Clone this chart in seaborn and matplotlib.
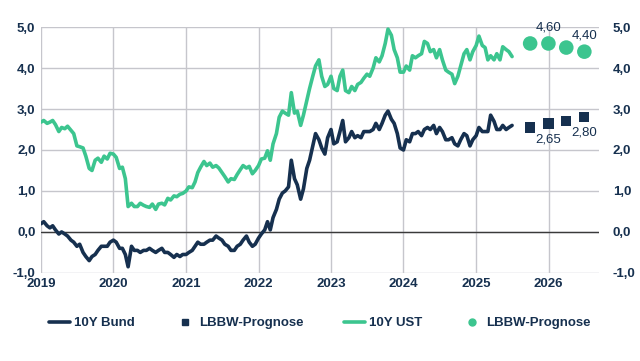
"""10Y Bund vs. 10Y UST yields with LBBW forecasts."""

import matplotlib

matplotlib.use("Agg")

import matplotlib.dates as mdates
import matplotlib.pyplot as plt
import pandas as pd
import seaborn as sns
from matplotlib.lines import Line2D


NAVY = "#16304f"
GREEN = "#3cc58f"
GRID = "#c6c6cc"

# semi-monthly observations (1st and 15th), Jan 2019 .. Jul 2025
dates = pd.date_range("2019-01-01", "2025-07-01", freq="SMS")

ust_10y = [
    # 2019
    2.68, 2.72, 2.65, 2.68, 2.72, 2.62, 2.45, 2.55, 2.52, 2.58, 2.48, 2.40,
    2.10, 2.08, 2.05, 1.85, 1.55, 1.50, 1.75, 1.80, 1.70, 1.85, 1.78, 1.92,
    # 2020
    1.90, 1.82, 1.55, 1.58, 1.30, 0.62, 0.70, 0.62, 0.62, 0.70, 0.65, 0.62,
    0.60, 0.68, 0.55, 0.68, 0.70, 0.66, 0.82, 0.78, 0.88, 0.86, 0.92, 0.94,
    # 2021
    1.00, 1.10, 1.08, 1.22, 1.45, 1.58, 1.72, 1.62, 1.68, 1.58, 1.62, 1.56,
    1.45, 1.35, 1.22, 1.30, 1.28, 1.40, 1.52, 1.62, 1.56, 1.60, 1.42, 1.50,
    # 2022
    1.62, 1.78, 1.80, 1.98, 1.75, 2.15, 2.40, 2.80, 2.95, 2.90, 2.85, 3.40,
    2.90, 2.95, 2.60, 2.85, 3.20, 3.50, 3.80, 4.05, 4.20, 3.80, 3.55, 3.60,
    # 2023
    3.80, 3.50, 3.45, 3.80, 3.95, 3.45, 3.40, 3.55, 3.45, 3.60, 3.65, 3.75,
    3.85, 3.80, 4.00, 4.25, 4.15, 4.30, 4.60, 4.95, 4.80, 4.45, 4.25, 3.90,
    # 2024
    3.90, 4.05, 3.95, 4.30, 4.25, 4.30, 4.35, 4.65, 4.60, 4.40, 4.45, 4.25,
    4.45, 4.20, 3.95, 3.90, 3.85, 3.62, 3.80, 4.05, 4.35, 4.45, 4.20, 4.40,
    # 2025
    4.55, 4.78, 4.55, 4.50, 4.20, 4.30, 4.20, 4.35, 4.20, 4.52, 4.45, 4.40,
    4.28,
]

bund_10y = [
    # 2019
    0.20, 0.25, 0.15, 0.10, 0.15, 0.05, -0.05, 0.00, -0.05, -0.10, -0.20, -0.25,
    -0.35, -0.30, -0.50, -0.60, -0.70, -0.60, -0.55, -0.45, -0.35, -0.35, -0.35, -0.25,
    # 2020
    -0.20, -0.25, -0.40, -0.40, -0.55, -0.85, -0.35, -0.45, -0.45, -0.50, -0.45, -0.45,
    -0.40, -0.45, -0.50, -0.45, -0.40, -0.50, -0.50, -0.55, -0.62, -0.55, -0.60, -0.55,
    # 2021
    -0.55, -0.50, -0.45, -0.35, -0.25, -0.30, -0.30, -0.25, -0.20, -0.20, -0.10, -0.15,
    -0.20, -0.30, -0.35, -0.45, -0.45, -0.35, -0.30, -0.20, -0.10, -0.25, -0.35, -0.30,
    # 2022
    -0.15, -0.05, 0.05, 0.25, 0.05, 0.35, 0.55, 0.80, 0.95, 1.00, 1.10, 1.75,
    1.30, 1.15, 0.80, 1.05, 1.55, 1.75, 2.10, 2.40, 2.25, 2.05, 1.90, 2.30,
    # 2023
    2.50, 2.15, 2.20, 2.45, 2.72, 2.20, 2.30, 2.45, 2.30, 2.35, 2.30, 2.45,
    2.45, 2.45, 2.50, 2.65, 2.50, 2.65, 2.85, 2.95, 2.75, 2.65, 2.40, 2.05,
    # 2024
    2.00, 2.25, 2.20, 2.40, 2.40, 2.45, 2.35, 2.50, 2.55, 2.50, 2.60, 2.40,
    2.55, 2.45, 2.25, 2.25, 2.30, 2.15, 2.10, 2.25, 2.40, 2.35, 2.10, 2.25,
    # 2025
    2.35, 2.55, 2.45, 2.45, 2.45, 2.85, 2.70, 2.50, 2.50, 2.60, 2.50, 2.55,
    2.60,
]

forecast_dates = pd.to_datetime(["2025-09-30", "2025-12-31", "2026-03-31", "2026-06-30"])
bund_forecast = [2.55, 2.65, 2.70, 2.80]
ust_forecast = [4.60, 4.60, 4.50, 4.40]
labelled = [1, 3]

history = pd.DataFrame({"date": dates, "bund": bund_10y, "ust": ust_10y})
forecast = pd.DataFrame({"date": forecast_dates, "bund": bund_forecast, "ust": ust_forecast})

sns.set_theme(style="white")
plt.rcParams["font.family"] = ["Liberation Sans", "DejaVu Sans"]

fig = plt.figure(figsize=(6.4, 3.61), dpi=100)
ax = fig.add_axes([0.064, 0.244, 0.872, 0.681])

sns.lineplot(data=history, x="date", y="ust", color=GREEN, linewidth=2.6, ax=ax)
sns.lineplot(data=history, x="date", y="bund", color=NAVY, linewidth=2.6, ax=ax)
sns.scatterplot(data=forecast, x="date", y="ust", color=GREEN, s=110, marker="o",
                edgecolor="none", ax=ax, zorder=4)
sns.scatterplot(data=forecast, x="date", y="bund", color=NAVY, s=55, marker="s",
                edgecolor="none", ax=ax, zorder=4)


def fmt(v):
    return f"{v:.2f}".replace(".", ",")


for i in labelled:
    ax.annotate(fmt(ust_forecast[i]), (forecast_dates[i], ust_forecast[i]),
                xytext=(0, 7), textcoords="offset points", ha="center", va="bottom",
                fontsize=9.5, color=NAVY)
    ax.annotate(fmt(bund_forecast[i]), (forecast_dates[i], bund_forecast[i]),
                xytext=(0, -7), textcoords="offset points", ha="center", va="top",
                fontsize=9.5, color=NAVY)

ax.set_xlim(pd.Timestamp("2019-01-01"), pd.Timestamp("2026-09-12"))
ax.set_ylim(-1, 5)
ax.xaxis.set_major_locator(mdates.YearLocator())
ax.xaxis.set_major_formatter(mdates.DateFormatter("%Y"))
yticks = list(range(-1, 6))
ax.set_yticks(yticks)
ax.set_yticklabels([f"{t:.1f}".replace(".", ",") for t in yticks])
ax.grid(True, color=GRID, linewidth=1.0)
ax.axhline(0, color="#3a3a3a", linewidth=1.0, zorder=1)
ax.set_xlabel("")
ax.set_ylabel("")
for side in ["top", "right", "left", "bottom"]:
    ax.spines[side].set_visible(False)
ax.tick_params(length=0, pad=4, labelsize=9.5, labelcolor=NAVY)
for lbl in ax.get_xticklabels() + ax.get_yticklabels():
    lbl.set_fontweight("bold")

ax2 = ax.twinx()
ax2.set_ylim(ax.get_ylim())
ax2.set_yticks(yticks)
ax2.set_yticklabels([f"{t:.1f}".replace(".", ",") for t in yticks])
ax2.tick_params(length=0, pad=10, labelsize=9.5, labelcolor=NAVY)
for lbl in ax2.get_yticklabels():
    lbl.set_fontweight("bold")
ax2.grid(False)
for side in ["top", "right", "left", "bottom"]:
    ax2.spines[side].set_visible(False)

handles = [
    Line2D([], [], color=NAVY, linewidth=2.6),
    Line2D([], [], color=NAVY, marker="s", linestyle="none", markersize=5),
    Line2D([], [], color=GREEN, linewidth=2.6),
    Line2D([], [], color=GREEN, marker="o", linestyle="none", markersize=5),
]
labels = ["10Y Bund", "LBBW-Prognose", "10Y UST", "LBBW-Prognose"]
leg = fig.legend(handles, labels, loc="center", bbox_to_anchor=(0.5, 0.105), ncol=4,
                 frameon=False, handlelength=1.6, handletextpad=0.3, columnspacing=3.0,
                 prop={"size": 9.5, "weight": "bold"})
for t in leg.get_texts():
    t.set_color(NAVY)

fig.savefig("out.png", dpi=100)
